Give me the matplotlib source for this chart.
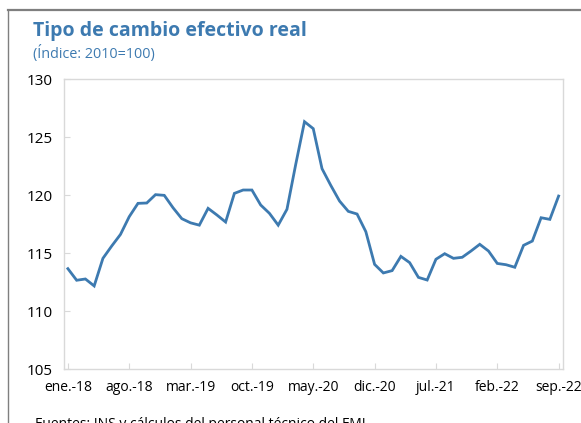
import matplotlib
matplotlib.use("Agg")
import matplotlib.pyplot as plt
from matplotlib.lines import Line2D

plt.rcParams['font.family'] = ['Open Sans', 'DejaVu Sans']

values = [113.65, 112.65, 112.76, 112.16, 114.54, 115.6, 116.6, 118.13, 119.28, 119.31,
          120.03, 119.97, 118.9, 117.96, 117.6, 117.4, 118.85, 118.28, 117.67, 120.14,
          120.43, 120.43, 119.14, 118.42, 117.4, 118.77, 122.64, 126.32, 125.72, 122.27,
          120.83, 119.48, 118.59, 118.36, 116.84, 114.02, 113.28, 113.48, 114.71, 114.17,
          112.9, 112.67, 114.46, 114.94, 114.54, 114.63, 115.17, 115.75, 115.17, 114.1,
          113.99, 113.77, 115.66, 116.03, 118.04, 117.9, 119.91]
tick_positions = [0, 7, 14, 21, 28, 35, 42, 49, 56]
tick_labels = ['ene.-18', 'ago.-18', 'mar.-19', 'oct.-19', 'may.-20', 'dic.-20',
               'jul.-21', 'feb.-22', 'sep.-22']
y_ticks = [105, 110, 115, 120, 125, 130]

W, H = 581, 423
fig = plt.figure(figsize=(W / 100, H / 100), dpi=100)
ax = fig.add_axes([63.5 / W, 1 - 369 / H, (563 - 63.5) / W, (369 - 79) / H])

x = list(range(len(values)))
ax.plot(x, values, color='#3D7AB0', lw=2.0, solid_joinstyle='miter')
ax.set_xlim(-0.5, 56.5)
ax.set_ylim(105, 130)
ax.set_yticks(y_ticks)
ax.set_xticks(tick_positions)
ax.set_xticklabels(tick_labels)
for s in ax.spines.values():
    s.set_color('#D9D9D9')
    s.set_linewidth(1.0)
ax.tick_params(direction='in', length=4, color='#D9D9D9', labelsize=10, labelcolor='black')
ax.tick_params(axis='y', pad=8, labelsize=11)
ax.tick_params(axis='x', pad=8)

# frame border
fig.add_artist(Line2D([8 / W, 1], [1 - 10.5 / H] * 2, color='#7F7F7F', lw=1.6))
fig.add_artist(Line2D([8 / W] * 2, [0, 1 - 10.5 / H], color='#7F7F7F', lw=1.0))

fig.text(33 / W, 1 - 36 / H, 'Tipo de cambio efectivo real', fontsize=14, fontweight='bold',
         color='#3D7AB0', ha='left', va='baseline')
fig.text(33 / W, 1 - 58 / H, '(Índice: 2010=100)', fontsize=10.4, color='#3D7AB0',
         ha='left', va='baseline')
fig.text(35 / W, 1 - 428 / H, 'Fuentes: INS y cálculos del personal técnico del FMI.',
         fontsize=10, color='black', ha='left', va='baseline')

fig.savefig('out.png', dpi=100)
